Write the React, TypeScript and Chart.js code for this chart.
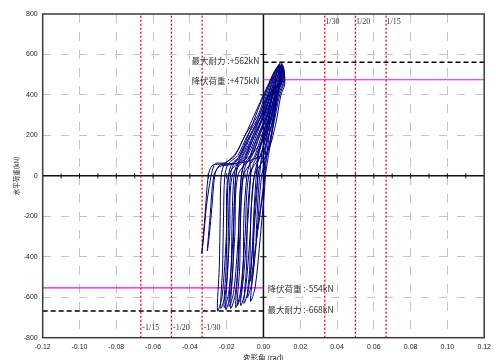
import React, { useEffect, useRef } from "react";
import { Chart, registerables } from "chart.js";

Chart.register(...registerables);

// axis ranges (rad / kN)
const xRange = [-0.12, 0.12];
const yRange = [-800, 800];
const xStep = 0.02;
const yStep = 200;

// characteristic loads (kN)
const maxLoadPos = 562;
const yieldLoadPos = 475;
const yieldLoadNeg = -554;
const maxLoadNeg = -668;

// drift-angle limit lines
const driftLimits = [1 / 30, 1 / 20, 1 / 15];
const driftLabelsPos = ["1/30", "1/20", "1/15"];
const driftLabelsNeg = ["-1/30", "-1/20", "-1/15"];

const labelMaxPos = "最大耐力 :+562kN";
const labelYieldPos = "降伏荷重 :+475kN";
const labelYieldNeg = "降伏荷重 :-554kN";
const labelMaxNeg = "最大耐力 :-668kN";
const xTitle = "変形角 (rad)";
const yTitle = "水平荷重(kN)";

// hysteresis path: [drift angle (rad), horizontal load (kN)]
const hysteresisPoints: [number, number][] = [
  // early small cycles
  [0, 0], [0.001, 100], [0.002, 200], [0.003, 300],
  [0.0032, 220], [0.0015, 80], [0.0, -60], [-0.002, -200], [-0.0035, -290], [-0.004, -320],
  [-0.0035, -200], [-0.0025, -50], [-0.001, 100], [0.002, 250], [0.0045, 380], [0.006, 450],
  [0.0065, 370], [0.005, 230], [0.002, 60], [-0.001, -120], [-0.004, -330], [-0.006, -470], [-0.007, -520],
  [-0.006, -350], [-0.005, -150], [-0.003, 80], [0.001, 250], [0.005, 420], [0.008, 520],
  [0.0088, 450], [0.0075, 400], [0.005, 250], [0.002, 100], [-0.001, 0], [-0.0036, -300], [-0.0063, -530], [-0.0088, -600],
  // full cycles
  [-0.0074, -450], [-0.0069, -200], [-0.005, 0], [-0.0035, 60], [-0.0016, 100], [0.0017, 200], [0.0051, 300], [0.0073, 400], [0.0095, 500], [0.0107, 540],
  [0.0115, 470], [0.0088, 400], [0.0054, 250], [0.0014, 100], [-0.005, 0], [-0.0073, -300], [-0.0099, -570], [-0.0124, -640],
  [-0.011, -450], [-0.0106, -200], [-0.009, 0], [-0.0074, 60], [-0.0047, 100], [-0.0009, 200], [0.0033, 300], [0.0059, 400], [0.0085, 500], [0.0101, 555],
  [0.0109, 485], [0.0074, 400], [0.0032, 250], [-0.0017, 100], [-0.008, 0], [-0.01, -300], [-0.0126, -580], [-0.0151, -650],
  [-0.0138, -450], [-0.0133, -200], [-0.012, 0], [-0.0103, 60], [-0.007, 100], [-0.0029, 200], [0.002, 300], [0.0049, 400], [0.0078, 500], [0.0097, 550],
  [0.0105, 480], [0.0064, 400], [0.0016, 250], [-0.004, 100], [-0.011, 0], [-0.0128, -300], [-0.0153, -585], [-0.0178, -655],
  [-0.0166, -450], [-0.0161, -200], [-0.015, 0], [-0.0132, 60], [-0.0093, 100], [-0.0048, 200], [0.0006, 300], [0.0038, 400], [0.007, 500], [0.0092, 562],
  [0.01, 492], [0.0053, 400], [-0.0001, 250], [-0.0063, 100], [-0.014, 0], [-0.0156, -300], [-0.018, -590], [-0.0205, -660],
  [-0.0194, -450], [-0.0189, -200], [-0.018, 0], [-0.0161, 60], [-0.0116, 100], [-0.0068, 200], [-0.0008, 300], [0.0028, 400], [0.0063, 500], [0.0088, 548],
  [0.0096, 478], [0.0043, 400], [-0.0018, 250], [-0.0086, 100], [-0.017, 0], [-0.0184, -300], [-0.0207, -585], [-0.0232, -655],
  [-0.0222, -450], [-0.0217, -200], [-0.021, 0], [-0.0191, 60], [-0.014, 100], [-0.0087, 200], [-0.0021, 300], [0.0017, 400], [0.0055, 500], [0.0083, 545],
  [0.0091, 475], [0.0032, 400], [-0.0034, 250], [-0.011, 100], [-0.019, 0], [-0.0202, -300], [-0.0225, -598], [-0.025, -668],
  [-0.024, -450], [-0.0235, -200], [-0.023, 0], [-0.021, 60], [-0.0155, 100], [-0.01, 200], [-0.003, 300], [0.001, 400], [0.005, 500], [0.008, 540],
  [0.0088, 470], [0.0025, 400], [-0.0045, 250], [-0.0125, 100], [-0.015, 0], [-0.0165, -300], [-0.0189, -580], [-0.0214, -650],
  [-0.0203, -450], [-0.0198, -200], [-0.019, 0], [-0.0171, 60], [-0.0124, 100], [-0.0074, 200], [-0.0012, 300], [0.0024, 400], [0.006, 500], [0.0086, 552],
  [0.0094, 482], [0.0039, 400], [-0.0023, 250], [-0.0094, 100], [-0.012, 0], [-0.0137, -300], [-0.0162, -575], [-0.0187, -645],
  [-0.0175, -450], [-0.017, -200], [-0.016, 0], [-0.0142, 60], [-0.0101, 100], [-0.0055, 200], [0.0002, 300], [0.0035, 400], [0.0068, 500], [0.0091, 540],
  [0.0099, 470], [0.005, 400], [-0.0007, 250], [-0.0071, 100], [-0.007, 0], [-0.0091, -300], [-0.0117, -570], [-0.0142, -640],
  [-0.0129, -450], [-0.0124, -200], [-0.011, 0], [-0.0093, 60], [-0.0062, 100], [-0.0022, 200], [0.0024, 300], [0.0052, 400], [0.008, 500], [0.0098, 550],
  [0.0106, 480], [0.0067, 400], [0.0021, 250], [-0.0032, 100], [-0.003, 0], [-0.0054, -300], [-0.0081, -560], [-0.0106, -630],
  [-0.0092, -450], [-0.0087, -200], [-0.007, 0], [-0.0054, 60], [-0.0031, 100], [0.0004, 200], [0.0042, 300], [0.0066, 400], [0.009, 500], [0.0104, 545],
  [0.0112, 475], [0.0081, 400], [0.0043, 250], [-0.0001, 100], [0.001, 0], [-0.0017, -300], [-0.0045, -550], [-0.007, -620],
  [-0.0055, -450], [-0.005, -200], [-0.003, 0], [-0.0015, 60], [0.0, 100], [0.003, 200], [0.006, 300], [0.008, 400], [0.01, 500], [0.011, 530],
  // large negative excursions
  [0.0115, 450], [0.0095, 400], [0.0065, 250], [0.002, 120], [-0.006, 80], [-0.012, 65], [-0.018, 60], [-0.024, 58], [-0.028, 50], [-0.03, 0], [-0.0318, -200], [-0.0335, -383],
  [-0.0325, -300], [-0.031, -150], [-0.0285, 0], [-0.027, 50], [-0.026, 62], [-0.022, 63], [-0.02, 67], [-0.015, 112], [-0.01, 200], [-0.004, 320], [0.002, 440], [0.006, 510], [0.008, 525],
  [0.0085, 450], [0.006, 350], [0.001, 200], [-0.006, 110], [-0.012, 70], [-0.018, 55], [-0.024, 45], [-0.027, 0], [-0.029, -200], [-0.0305, -370],
  [-0.0295, -300], [-0.028, -150], [-0.0265, 0], [-0.025, 40], [-0.023, 55], [-0.0175, 60], [-0.0155, 65], [-0.012, 120], [-0.007, 230], [-0.002, 350], [0.003, 450], [0.006, 490],
  [0.0065, 420], [0.0045, 300],
];

const CJK = '"Noto Sans CJK JP", "Noto Sans", sans-serif';
const SANS = '"Liberation Sans", Arial, sans-serif';
const SERIF = '"Liberation Serif", "Times New Roman", serif';

const overlayPlugin = {
  id: "overlay",
  beforeDatasetsDraw(chart: any) {
    const { ctx, chartArea: ca, scales } = chart;
    const sx = scales.x;
    const sy = scales.y;
    const x0 = sx.getPixelForValue(0);
    const y0 = sy.getPixelForValue(0);
    ctx.save();
    ctx.strokeStyle = "#111";
    ctx.lineWidth = 1.5;
    ctx.beginPath();
    ctx.moveTo(ca.left, y0);
    ctx.lineTo(ca.right, y0);
    ctx.moveTo(x0, ca.top);
    ctx.lineTo(x0, ca.bottom);
    ctx.stroke();
    ctx.lineWidth = 1;
    ctx.beginPath();
    for (let i = -11; i <= 11; i++) {
      const px = sx.getPixelForValue(i / 100);
      ctx.moveTo(px, y0 - 2.5);
      ctx.lineTo(px, y0 + 2.5);
    }
    for (let i = -3; i <= 3; i++) {
      if (i === 0) continue;
      const py = sy.getPixelForValue(i * 200);
      ctx.moveTo(x0 - 3, py);
      ctx.lineTo(x0 + 3, py);
    }
    ctx.stroke();
    ctx.restore();
  },
  afterDraw(chart: any) {
    const { ctx, chartArea: ca, scales } = chart;
    const sx = scales.x;
    const sy = scales.y;
    const x0 = sx.getPixelForValue(0);
    ctx.save();
    // frame
    ctx.strokeStyle = "#3a3a3a";
    ctx.lineWidth = 1.5;
    ctx.strokeRect(ca.left, ca.top, ca.right - ca.left, ca.bottom - ca.top);

    // load annotations
    ctx.fillStyle = "#333";
    ctx.font = `8.5px ${CJK}`;
    ctx.textBaseline = "middle";
    ctx.textAlign = "right";
    ctx.fillText(labelMaxPos, x0 - 4, sy.getPixelForValue(maxLoadPos) - 1);
    ctx.fillText(labelYieldPos, x0 - 4, sy.getPixelForValue(yieldLoadPos) + 1);
    ctx.textAlign = "left";
    ctx.fillText(labelYieldNeg, x0 + 4, sy.getPixelForValue(yieldLoadNeg) + 1);
    ctx.fillText(labelMaxNeg, x0 + 4, sy.getPixelForValue(maxLoadNeg) - 1);

    // drift labels
    ctx.font = `8px ${SERIF}`;
    ctx.fillStyle = "#333";
    driftLimits.forEach((d, i) => {
      ctx.fillText(driftLabelsPos[i], sx.getPixelForValue(d) + 0.5, ca.top + 8);
      ctx.fillText(driftLabelsNeg[i], sx.getPixelForValue(-d) + 1.5, ca.bottom - 10);
    });

    // axis titles
    ctx.fillStyle = "#222";
    ctx.font = `7.5px ${CJK}`;
    ctx.textAlign = "center";
    ctx.textBaseline = "top";
    ctx.fillText(xTitle, x0, 354);
    ctx.translate(17, (ca.top + ca.bottom) / 2);
    ctx.rotate(-Math.PI / 2);
    ctx.textBaseline = "middle";
    ctx.font = `6.5px ${CJK}`;
    ctx.fillText(yTitle, 0, 0);
    ctx.restore();
  },
};

export default function App() {
  const canvasRef = useRef<HTMLCanvasElement | null>(null);

  useEffect(() => {
    if (!canvasRef.current) return;
    const hLine = (x1: number, x2: number, y: number) => [
      { x: x1, y },
      { x: x2, y },
    ];
    const vLine = (x: number) => [
      { x, y: yRange[0] },
      { x, y: yRange[1] },
    ];
    const limitSets = [...driftLimits, ...driftLimits.map((d) => -d)].map((d) => ({
      data: vLine(d),
      showLine: true,
      borderColor: "#ff0000",
      borderWidth: 1.3,
      borderDash: [2, 2],
      pointRadius: 0,
      tension: 0,
    }));
    const chart = new Chart(canvasRef.current, {
      type: "scatter",
      data: {
        datasets: [
          {
            data: hysteresisPoints.map(([x, y]) => ({ x, y })),
            showLine: true,
            borderColor: "#000080",
            borderWidth: 1,
            pointRadius: 0,
            tension: 0.3,
          },
          {
            data: hLine(0, xRange[1], maxLoadPos),
            showLine: true,
            borderColor: "#000",
            borderWidth: 1.5,
            borderDash: [5, 3],
            pointRadius: 0,
          },
          {
            data: hLine(0, xRange[1], yieldLoadPos),
            showLine: true,
            borderColor: "#ff00ff",
            borderWidth: 1.2,
            pointRadius: 0,
          },
          {
            data: hLine(xRange[0], 0, yieldLoadNeg),
            showLine: true,
            borderColor: "#ff00ff",
            borderWidth: 1.2,
            pointRadius: 0,
          },
          {
            data: hLine(xRange[0], 0, maxLoadNeg),
            showLine: true,
            borderColor: "#000",
            borderWidth: 1.5,
            borderDash: [5, 3],
            pointRadius: 0,
          },
          ...limitSets,
        ],
      },
      options: {
        animation: false,
        responsive: false,
        devicePixelRatio: 1,
        layout: { padding: { left: 0, top: 14, right: 4.5, bottom: 0 } },
        plugins: {
          legend: { display: false },
          tooltip: { enabled: false },
        },
        scales: {
          x: {
            type: "linear",
            min: xRange[0],
            max: xRange[1],
            afterFit: (s: any) => {
              s.height = 22.3;
            },
            ticks: {
              stepSize: xStep,
              padding: 5,
              color: "#222",
              font: { family: SANS, size: 7 },
              callback: (v: any) => Number(v).toFixed(2),
            },
            grid: {
              drawTicks: false,
              color: (c: any) => {
                const v = c.tick ? c.tick.value : 0;
                return Math.abs(v) < 1e-9 || Math.abs(Math.abs(v) - 0.12) < 1e-9 ? "rgba(0,0,0,0)" : "#c4c4c4";
              },
              lineWidth: 1,
            },
            border: { display: false, dash: [9, 9] },
          },
          y: {
            type: "linear",
            min: yRange[0],
            max: yRange[1],
            afterFit: (s: any) => {
              s.width = 42.7;
            },
            ticks: {
              stepSize: yStep,
              padding: 5,
              color: "#222",
              font: { family: SANS, size: 7 },
            },
            grid: {
              drawTicks: false,
              color: (c: any) => {
                const v = c.tick ? c.tick.value : 0;
                return v === 0 || Math.abs(v) === 800 ? "rgba(0,0,0,0)" : "#c4c4c4";
              },
              lineWidth: 1,
            },
            border: { display: false, dash: [8, 10] },
          },
        },
      },
      plugins: [overlayPlugin],
    });
    return () => chart.destroy();
  }, []);

  return (
    <div style={{ position: "absolute", left: 0, top: 0, width: 496, height: 360, background: "#fff" }}>
      <canvas ref={canvasRef} width={496} height={360} />
    </div>
  );
}
